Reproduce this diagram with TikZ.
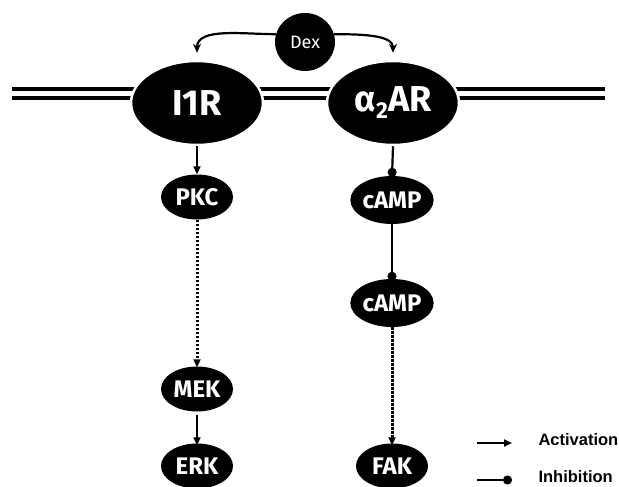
\documentclass[tikz,border=0pt]{standalone}
\usepackage{fontspec}
\setmainfont{Fira Sans}
\newfontfamily\legfont{Liberation Sans}
\usetikzlibrary{shapes.geometric,arrows.meta}
\begin{document}
\begin{tikzpicture}[x=1pt,y=-1pt,
  receptor/.style={ellipse,fill=black,draw=white,line width=2.5pt,inner sep=0pt,minimum width=132pt,minimum height=84pt,text=white,font=\fontsize{36}{36}\selectfont\bfseries},
  molecule/.style={ellipse,fill=black,inner sep=0pt,minimum width=72pt,minimum height=45pt,text=white,font=\fontsize{24}{24}\selectfont\bfseries},
  membrane/.style={line width=3.2pt},
  act/.style={line width=2.2pt,-{Triangle[length=8pt,width=7pt]}},
  inh/.style={line width=2.2pt,-{Circle[length=9pt]}},
  dots/.style={line width=3pt,dash pattern=on 2.5pt off 1.5pt},
  legtext/.style={anchor=west,font=\legfont\fontsize{16.5}{16.5}\selectfont\bfseries}]
\useasboundingbox (0,0) rectangle (619,487);
% membrane
\coordinate (mL) at (12,98);
\coordinate (mR) at (605,98);
\draw[membrane] (mL) -- (mR);
\draw[membrane] ([yshift=9pt]mL) -- ([yshift=9pt]mR);
% nodes
\node[ellipse,fill=black,inner sep=0pt,minimum width=60pt,minimum height=58pt,text=white,font=\fontsize{18}{18}\selectfont] (dex) at (305,42) {Dex};
\node[receptor] (i1r) at (197,103) {I1R};
\node[receptor] (a2ar) at (393,103) {α\raisebox{-7pt}{\fontsize{23}{23}\selectfont 2}AR};
\node[molecule] (pkc) at (197,197) {PKC};
\node[molecule] (mek) at (197,389) {MEK};
\node[molecule] (erk) at (197,466) {ERK};
\node[molecule,minimum height=48pt] (camp1) at (392,200) {cAMP};
\node[molecule,minimum height=48pt] (camp2) at (392,303) {cAMP};
\node[molecule] (fak) at (392,466) {FAK};
% Dex arrows
\draw[line width=2.2pt,-{Stealth[length=9pt,width=8pt]},shorten >=7pt] (dex.165) to[out=180,in=90,looseness=1] (i1r.north);
\draw[line width=2.2pt,-{Stealth[length=9pt,width=8pt]},shorten >=7pt] (dex.15) to[out=0,in=90,looseness=1] (a2ar.north);
% pathways
\draw[act] (i1r.south) -- (pkc.north);
\draw[dots,-{Triangle[length=8pt,width=7pt]}] (pkc.south) -- ([yshift=-1pt]mek.north);
\draw[act,shorten <=3pt] (mek.south) -- ([yshift=-2pt]erk.north);
\draw[inh] (a2ar.south) -- ([yshift=-1pt]camp1.north);
\draw[inh] (camp1.south) -- ([yshift=-2pt]camp2.north);
\draw[dots,-{Triangle[length=8pt,width=7pt]}] (camp2.south) -- ([yshift=-2pt]fak.north);
% legend
\coordinate (la1) at (477,443);
\coordinate (la2) at (512,443);
\coordinate (li1) at (477,480);
\coordinate (li2) at (512,480);
\draw[act] (la1) -- (la2);
\draw[inh] (li1) -- (li2);
\node[legtext] (lact) at (535,440) {Activation};
\node[legtext] (linh) at (535,477) {Inhibition};
\end{tikzpicture}
\end{document}
